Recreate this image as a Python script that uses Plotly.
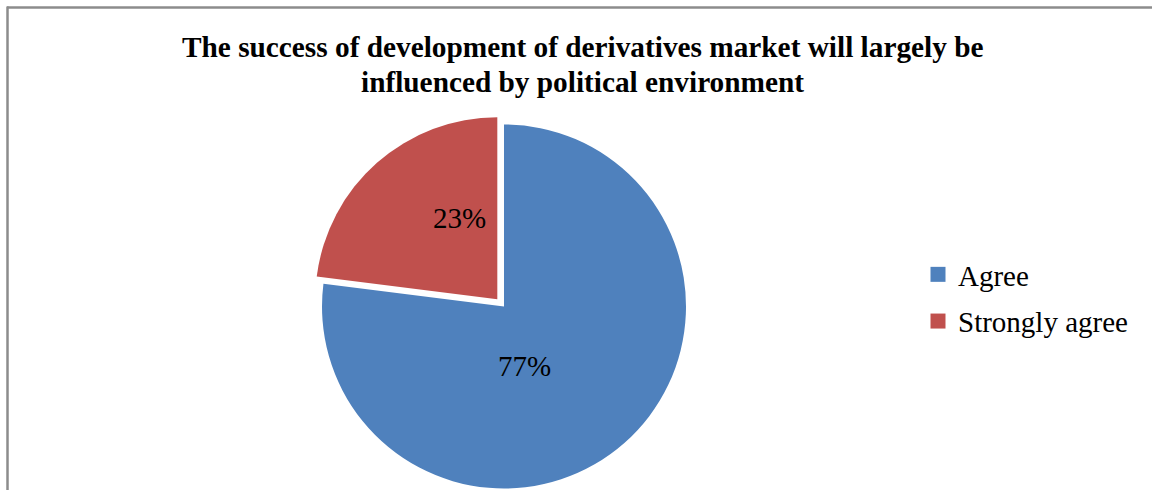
import plotly.graph_objects as go

# Survey responses
categories = ["Agree", "Strongly agree"]
shares = [77, 23]
colors = ["#4F81BD", "#C0504D"]
title_lines = [
    "The success of development of derivatives market will largely be",
    "influenced by political environment",
]

W, H = 1152, 490
CLEAR = "rgba(0,0,0,0)"
FONT = "Liberation Serif, Times New Roman, serif"


def px_dom(cx, cy, r):
    """Pie domain (paper fractions) for a pie centred at (cx, cy) px with radius r."""
    return dict(x=[(cx - r) / W, (cx + r) / W], y=[1 - (cy + r) / H, 1 - (cy - r) / H])


R = 182
# main pie and the exploded slice, which sits slightly up and to the left
centres = [(504, 306.5), (497.3, 299.3)]

fig = go.Figure()
for i, (cx, cy) in enumerate(centres):
    fig.add_trace(go.Pie(
        labels=categories,
        values=shares,
        sort=False,
        direction="clockwise",
        rotation=0,
        marker=dict(colors=[c if j == i else CLEAR for j, c in enumerate(colors)],
                    line=dict(width=0)),
        textinfo="none",
        hoverinfo="label+percent",
        showlegend=False,
        domain=px_dom(cx, cy, R),
    ))

# legend entries
for name, c in zip(categories, colors):
    fig.add_trace(go.Scatter(
        x=[None], y=[None], mode="markers", name=name,
        marker=dict(symbol="square", size=15, color=c),
        legendgroup=name,
    ))

# percentage labels inside the slices
total = sum(shares)
label_pos = [(524, 366), (459, 218)]
annotations = []
for v, (lx, ly) in zip(shares, label_pos):
    annotations.append(dict(
        text=f"{round(v / total * 100)}%", x=lx / W, y=1 - ly / H,
        xref="paper", yref="paper", showarrow=False,
        xanchor="center", yanchor="middle",
        font=dict(family=FONT, size=29, color="#000000"),
    ))

# title, two centred lines
for line, ty in zip(title_lines, [47, 81.5]):
    annotations.append(dict(
        text=f"<b>{line}</b>", x=582 / W, y=1 - ty / H,
        xref="paper", yref="paper", showarrow=False,
        xanchor="center", yanchor="middle",
        font=dict(family=FONT, size=29.3, color="#000000"),
    ))

# chart frame (top and left edges)
shapes = [
    dict(type="line", xref="paper", yref="paper", x0=7 / W, x1=1, y0=1 - 7.5 / H, y1=1 - 7.5 / H,
         line=dict(color="#8C8C8C", width=2.5)),
    dict(type="line", xref="paper", yref="paper", x0=7.5 / W, x1=7.5 / W, y0=0, y1=1 - 6.5 / H,
         line=dict(color="#8C8C8C", width=2.5)),
]

fig.update_layout(
    width=W, height=H,
    margin=dict(l=0, r=0, t=0, b=0),
    paper_bgcolor="white", plot_bgcolor="white",
    xaxis=dict(visible=False), yaxis=dict(visible=False),
    annotations=annotations,
    shapes=shapes,
    showlegend=True,
    legend=dict(
        x=918 / W, y=1 - 298 / H, xanchor="left", yanchor="middle",
        font=dict(family=FONT, size=29, color="#000000"),
        tracegroupgap=6, bgcolor=CLEAR,
    ),
)

fig.write_html("out.html")
